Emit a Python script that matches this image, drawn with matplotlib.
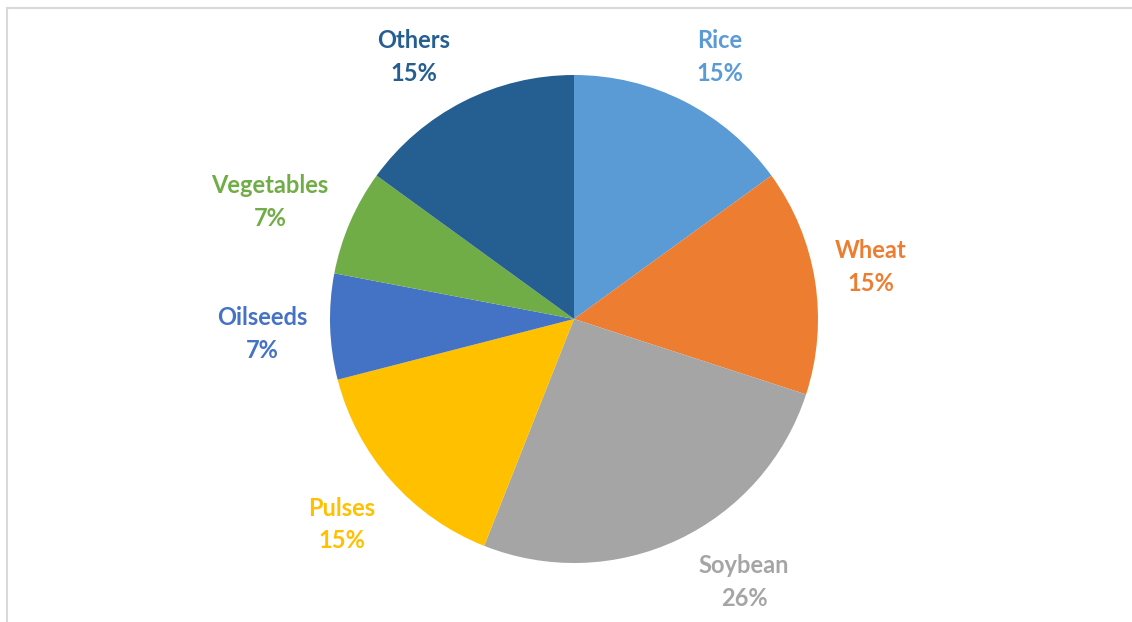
import matplotlib
matplotlib.use("Agg")
import matplotlib.pyplot as plt
from matplotlib.lines import Line2D

categories = ["Rice", "Wheat", "Soybean", "Pulses", "Oilseeds", "Vegetables", "Others"]
shares = [15, 15, 26, 15, 7, 7, 15]
colors = ["#5B9BD5", "#ED7D31", "#A5A5A5", "#FFC000", "#4472C4", "#70AD47", "#255E91"]

# label positions in pie radius units (Excel "best fit" placement)
label_pos = [(0.598, 1.074), (1.217, 0.213), (0.697, -1.078), (-0.951, -0.842),
             (-1.278, -0.061), (-1.246, 0.480), (-0.656, 1.074)]

W, H = 1132, 622
cx, cy, R = 574, 319, 244

fig = plt.figure(figsize=(W / 100, H / 100), dpi=100)
ax = fig.add_axes([0, 0, 1, 1])

ax.pie(shares, colors=colors, startangle=90, counterclock=False, radius=1,
       wedgeprops=dict(linewidth=0))
ax.set_aspect("auto")
ax.set_xlim(-cx / R, (W - cx) / R)
ax.set_ylim(-(H - cy) / R, cy / R)
ax.axis("off")

for name, val, col, (x, y) in zip(categories, shares, colors, label_pos):
    ax.text(x, y, f"{name}\n{val}%", color=col, ha="center", va="center",
            fontsize=17, fontweight="bold", family="Lato", linespacing=1.5)

# thin chart-area border (only top and left visible in the crop)
fig.add_artist(Line2D([7 / W, 7 / W], [0, 1 - 8 / H], color="#d9d9d9", lw=1.5,
                      transform=fig.transFigure))
fig.add_artist(Line2D([7 / W, 1], [1 - 8 / H, 1 - 8 / H], color="#d9d9d9", lw=1.5,
                      transform=fig.transFigure))

fig.savefig("out.png", dpi=100)
